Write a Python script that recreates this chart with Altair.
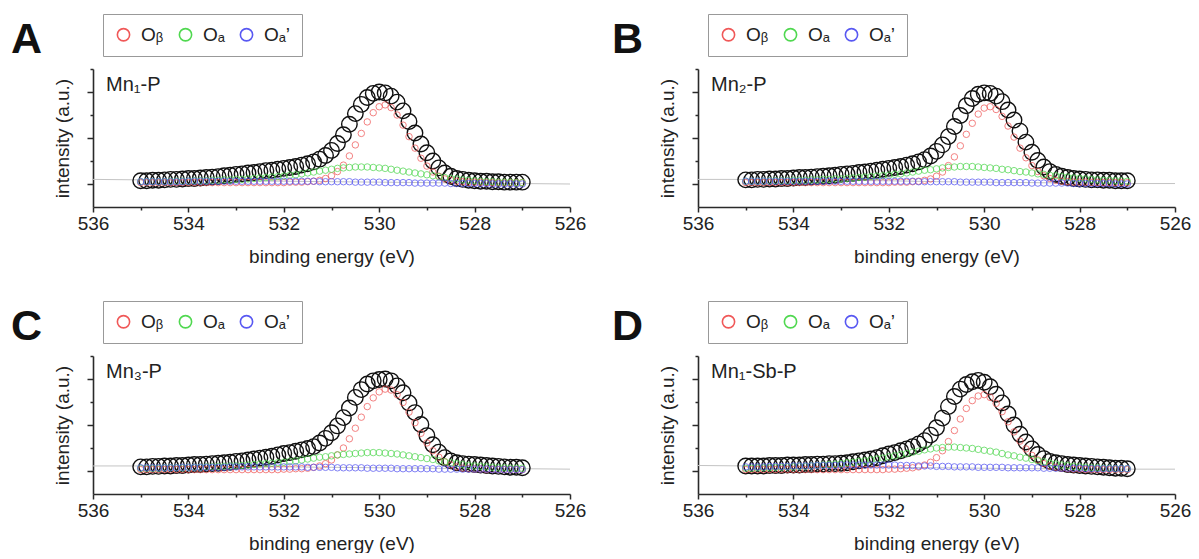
import altair as alt
import pandas as pd

FONT = "Liberation Sans"

# binding-energy grid of the measured points (eV)
energy = [535.0, 534.875, 534.75, 534.625, 534.5, 534.375, 534.25, 534.125,
          534.0, 533.875, 533.75, 533.625, 533.5, 533.375, 533.25, 533.125,
          533.0, 532.875, 532.75, 532.625, 532.5, 532.375, 532.25, 532.125,
          532.0, 531.875, 531.75, 531.625, 531.5, 531.375, 531.25, 531.125,
          531.0, 530.875, 530.75, 530.625, 530.5, 530.375, 530.25, 530.125,
          530.0, 529.875, 529.75, 529.625, 529.5, 529.375, 529.25, 529.125,
          529.0, 528.875, 528.75, 528.625, 528.5, 528.375, 528.25, 528.125,
          528.0, 527.875, 527.75, 527.625, 527.5, 527.375, 527.25, 527.125,
          527.0]
bg_energy = [536, 535, 534, 533, 532, 531, 530, 529, 528, 527, 526]

component_names = ["O\u1d66", "O\u2090", "O\u2090\u2019"]
component_colors = ["#f05858", "#50d850", "#5858f2"]

# ---------------- A : Mn1-P ----------------
black_A = [0.07, 0.07, 0.08, 0.08, 0.09, 0.10, 0.10, 0.11,
           0.12, 0.12, 0.13, 0.14, 0.15, 0.16, 0.18, 0.19,
           0.21, 0.22, 0.24, 0.25, 0.27, 0.29, 0.30, 0.32,
           0.34, 0.36, 0.38, 0.41, 0.44, 0.48, 0.54, 0.62,
           0.73, 0.88, 1.07, 1.30, 1.53, 1.73, 1.88, 1.97,
           2.00, 1.98, 1.91, 1.78, 1.59, 1.36, 1.11, 0.87,
           0.68, 0.50, 0.35, 0.24, 0.17, 0.12, 0.10, 0.08,
           0.07, 0.06, 0.06, 0.05, 0.05, 0.04, 0.04, 0.04,
           0.04]
red_A = [0.03, 0.03, 0.03, 0.03, 0.03, 0.03, 0.03, 0.03,
         0.03, 0.03, 0.03, 0.03, 0.03, 0.03, 0.03, 0.03,
         0.03, 0.03, 0.03, 0.03, 0.03, 0.03, 0.03, 0.03,
         0.03, 0.04, 0.04, 0.04, 0.05, 0.06, 0.08, 0.12,
         0.18, 0.27, 0.41, 0.61, 0.85, 1.10, 1.35, 1.55,
         1.68, 1.72, 1.66, 1.50, 1.28, 1.03, 0.78, 0.56,
         0.39, 0.26, 0.17, 0.11, 0.08, 0.06, 0.05, 0.04,
         0.04, 0.04, 0.03, 0.03, 0.03, 0.03, 0.03, 0.03,
         0.03]
green_A = [0.05, 0.05, 0.05, 0.05, 0.05, 0.06, 0.06, 0.06,
           0.06, 0.07, 0.07, 0.07, 0.08, 0.08, 0.09, 0.09,
           0.10, 0.10, 0.11, 0.12, 0.13, 0.14, 0.15, 0.16,
           0.17, 0.19, 0.20, 0.22, 0.24, 0.26, 0.28, 0.30,
           0.32, 0.34, 0.35, 0.36, 0.37, 0.37, 0.37, 0.36,
           0.35, 0.34, 0.32, 0.30, 0.28, 0.26, 0.24, 0.22,
           0.20, 0.18, 0.16, 0.14, 0.12, 0.11, 0.09, 0.08,
           0.07, 0.06, 0.05, 0.05, 0.04, 0.04, 0.04, 0.03,
           0.03]
blue_A = [0.05, 0.05, 0.05, 0.05, 0.05, 0.05, 0.05, 0.05,
          0.06, 0.06, 0.06, 0.06, 0.06, 0.06, 0.06, 0.06,
          0.06, 0.06, 0.06, 0.06, 0.06, 0.06, 0.06, 0.06,
          0.06, 0.06, 0.06, 0.06, 0.06, 0.06, 0.05, 0.05,
          0.05, 0.05, 0.05, 0.05, 0.04, 0.04, 0.04, 0.04,
          0.04, 0.03, 0.03, 0.03, 0.03, 0.03, 0.02, 0.02,
          0.02, 0.02, 0.02, 0.02, 0.01, 0.01, 0.01, 0.01,
          0.01, 0.01, 0.01, 0.00, 0.00, 0.00, 0.00, 0.00,
          0.00]
bg_A = [0.10, 0.09, 0.08, 0.07, 0.06, 0.05, 0.04, 0.03, 0.02, 0.01, 0.00]

# ---------------- B : Mn2-P ----------------
black_B = [0.09, 0.09, 0.10, 0.10, 0.11, 0.11, 0.12, 0.12,
           0.13, 0.14, 0.14, 0.15, 0.16, 0.17, 0.18, 0.19,
           0.21, 0.22, 0.23, 0.25, 0.26, 0.28, 0.30, 0.32,
           0.34, 0.36, 0.38, 0.41, 0.44, 0.48, 0.53, 0.61,
           0.71, 0.85, 1.03, 1.25, 1.49, 1.70, 1.86, 1.95,
           1.98, 1.97, 1.91, 1.79, 1.61, 1.39, 1.15, 0.91,
           0.69, 0.51, 0.37, 0.27, 0.21, 0.17, 0.14, 0.12,
           0.11, 0.10, 0.09, 0.09, 0.08, 0.08, 0.07, 0.07,
           0.07]
red_B = [0.03, 0.03, 0.03, 0.03, 0.03, 0.03, 0.03, 0.03,
         0.03, 0.03, 0.03, 0.03, 0.03, 0.03, 0.03, 0.03,
         0.03, 0.03, 0.03, 0.03, 0.03, 0.03, 0.03, 0.03,
         0.03, 0.04, 0.04, 0.04, 0.05, 0.06, 0.08, 0.11,
         0.17, 0.26, 0.40, 0.59, 0.83, 1.08, 1.32, 1.52,
         1.65, 1.68, 1.62, 1.47, 1.26, 1.02, 0.78, 0.57,
         0.40, 0.27, 0.18, 0.12, 0.08, 0.06, 0.05, 0.04,
         0.04, 0.04, 0.03, 0.03, 0.03, 0.03, 0.03, 0.03,
         0.03]
green_B = [0.06, 0.06, 0.06, 0.06, 0.07, 0.07, 0.07, 0.07,
           0.08, 0.08, 0.08, 0.09, 0.09, 0.10, 0.10, 0.11,
           0.11, 0.12, 0.13, 0.14, 0.15, 0.16, 0.17, 0.18,
           0.19, 0.21, 0.22, 0.24, 0.26, 0.28, 0.30, 0.31,
           0.33, 0.35, 0.36, 0.37, 0.38, 0.38, 0.38, 0.37,
           0.36, 0.35, 0.34, 0.32, 0.31, 0.29, 0.27, 0.26,
           0.24, 0.22, 0.21, 0.19, 0.18, 0.16, 0.15, 0.13,
           0.12, 0.11, 0.10, 0.09, 0.08, 0.08, 0.07, 0.07,
           0.06]
blue_B = [0.06, 0.06, 0.06, 0.06, 0.06, 0.06, 0.06, 0.06,
          0.06, 0.06, 0.06, 0.06, 0.06, 0.06, 0.06, 0.06,
          0.06, 0.06, 0.06, 0.06, 0.06, 0.06, 0.06, 0.06,
          0.06, 0.06, 0.06, 0.06, 0.06, 0.05, 0.05, 0.05,
          0.05, 0.05, 0.05, 0.05, 0.04, 0.04, 0.04, 0.04,
          0.04, 0.04, 0.03, 0.03, 0.03, 0.03, 0.03, 0.03,
          0.02, 0.02, 0.02, 0.02, 0.02, 0.02, 0.02, 0.01,
          0.01, 0.01, 0.01, 0.01, 0.01, 0.01, 0.00, 0.00,
          0.00]
bg_B = [0.10, 0.10, 0.09, 0.08, 0.07, 0.05, 0.04, 0.03, 0.02, 0.01, 0.01]

# ---------------- C : Mn3-P ----------------
black_C = [0.09, 0.09, 0.10, 0.10, 0.11, 0.11, 0.12, 0.12,
           0.13, 0.14, 0.14, 0.15, 0.16, 0.17, 0.18, 0.19,
           0.21, 0.22, 0.24, 0.26, 0.28, 0.30, 0.32, 0.35,
           0.38, 0.40, 0.43, 0.46, 0.49, 0.53, 0.61, 0.71,
           0.83, 0.98, 1.16, 1.37, 1.60, 1.77, 1.89, 1.96,
           1.99, 2.00, 1.96, 1.85, 1.70, 1.48, 1.27, 1.01,
           0.77, 0.57, 0.41, 0.29, 0.22, 0.18, 0.16, 0.15,
           0.14, 0.13, 0.12, 0.11, 0.10, 0.09, 0.08, 0.08,
           0.07]
red_C = [0.03, 0.03, 0.03, 0.03, 0.03, 0.03, 0.03, 0.03,
         0.03, 0.03, 0.03, 0.03, 0.03, 0.03, 0.03, 0.03,
         0.03, 0.03, 0.03, 0.03, 0.03, 0.03, 0.03, 0.03,
         0.04, 0.04, 0.05, 0.05, 0.06, 0.08, 0.11, 0.16,
         0.24, 0.35, 0.50, 0.70, 0.93, 1.17, 1.40, 1.59,
         1.72, 1.78, 1.76, 1.66, 1.49, 1.28, 1.05, 0.82,
         0.61, 0.44, 0.30, 0.20, 0.13, 0.09, 0.06, 0.05,
         0.04, 0.04, 0.03, 0.03, 0.03, 0.03, 0.03, 0.03,
         0.03]
green_C = [0.06, 0.06, 0.06, 0.06, 0.07, 0.07, 0.07, 0.07,
           0.08, 0.08, 0.08, 0.09, 0.09, 0.10, 0.10, 0.11,
           0.11, 0.12, 0.13, 0.14, 0.15, 0.16, 0.17, 0.18,
           0.19, 0.21, 0.22, 0.24, 0.26, 0.28, 0.30, 0.31,
           0.33, 0.35, 0.36, 0.37, 0.38, 0.39, 0.40, 0.40,
           0.40, 0.39, 0.38, 0.37, 0.35, 0.33, 0.31, 0.29,
           0.27, 0.25, 0.22, 0.20, 0.18, 0.16, 0.14, 0.12,
           0.11, 0.10, 0.09, 0.08, 0.07, 0.07, 0.06, 0.06,
           0.06]
blue_C = [0.07, 0.07, 0.07, 0.07, 0.07, 0.07, 0.07, 0.08,
          0.08, 0.08, 0.08, 0.08, 0.08, 0.08, 0.08, 0.09,
          0.09, 0.09, 0.09, 0.09, 0.09, 0.09, 0.09, 0.09,
          0.09, 0.09, 0.09, 0.09, 0.08, 0.08, 0.08, 0.08,
          0.08, 0.07, 0.07, 0.07, 0.07, 0.07, 0.06, 0.06,
          0.06, 0.06, 0.06, 0.05, 0.05, 0.05, 0.05, 0.05,
          0.05, 0.05, 0.04, 0.04, 0.04, 0.04, 0.04, 0.04,
          0.04, 0.04, 0.04, 0.03, 0.03, 0.03, 0.03, 0.03,
          0.03]
bg_C = [0.11, 0.11, 0.10, 0.10, 0.09, 0.08, 0.07, 0.06, 0.05, 0.05, 0.04]

# ---------------- D : Mn1-Sb-P ----------------
black_D = [0.11, 0.11, 0.11, 0.11, 0.12, 0.12, 0.12, 0.13,
           0.13, 0.13, 0.14, 0.14, 0.15, 0.15, 0.16, 0.16,
           0.17, 0.18, 0.20, 0.22, 0.24, 0.26, 0.29, 0.33,
           0.37, 0.40, 0.44, 0.48, 0.53, 0.59, 0.66, 0.78,
           0.94, 1.15, 1.40, 1.62, 1.78, 1.88, 1.94, 1.97,
           1.93, 1.83, 1.67, 1.48, 1.24, 1.00, 0.80, 0.63,
           0.48, 0.36, 0.27, 0.21, 0.18, 0.16, 0.14, 0.13,
           0.12, 0.11, 0.10, 0.09, 0.08, 0.07, 0.06, 0.06,
           0.05]
red_D = [0.03, 0.03, 0.03, 0.03, 0.03, 0.03, 0.03, 0.03,
         0.03, 0.03, 0.03, 0.03, 0.03, 0.03, 0.03, 0.03,
         0.03, 0.03, 0.03, 0.03, 0.03, 0.03, 0.03, 0.03,
         0.04, 0.04, 0.05, 0.06, 0.07, 0.09, 0.13, 0.19,
         0.29, 0.44, 0.64, 0.88, 1.13, 1.36, 1.53, 1.63,
         1.66, 1.60, 1.47, 1.29, 1.07, 0.85, 0.65, 0.48,
         0.34, 0.24, 0.16, 0.11, 0.08, 0.06, 0.05, 0.04,
         0.04, 0.03, 0.03, 0.03, 0.03, 0.03, 0.03, 0.03,
         0.03]
green_D = [0.06, 0.06, 0.07, 0.07, 0.07, 0.08, 0.08, 0.09,
           0.09, 0.10, 0.10, 0.11, 0.12, 0.13, 0.14, 0.15,
           0.16, 0.18, 0.19, 0.21, 0.22, 0.24, 0.26, 0.28,
           0.31, 0.33, 0.36, 0.38, 0.41, 0.43, 0.46, 0.48,
           0.50, 0.51, 0.52, 0.52, 0.51, 0.50, 0.49, 0.47,
           0.45, 0.43, 0.41, 0.38, 0.35, 0.33, 0.30, 0.28,
           0.25, 0.22, 0.20, 0.17, 0.15, 0.13, 0.12, 0.10,
           0.09, 0.08, 0.07, 0.07, 0.06, 0.06, 0.05, 0.05,
           0.05]
blue_D = [0.09, 0.09, 0.09, 0.09, 0.10, 0.10, 0.10, 0.10,
          0.11, 0.11, 0.11, 0.11, 0.12, 0.12, 0.12, 0.12,
          0.13, 0.13, 0.13, 0.13, 0.13, 0.13, 0.13, 0.13,
          0.13, 0.13, 0.12, 0.12, 0.12, 0.11, 0.11, 0.11,
          0.10, 0.10, 0.10, 0.09, 0.09, 0.09, 0.09, 0.08,
          0.08, 0.08, 0.08, 0.08, 0.07, 0.07, 0.07, 0.07,
          0.07, 0.07, 0.06, 0.06, 0.06, 0.06, 0.06, 0.06,
          0.06, 0.05, 0.05, 0.05, 0.05, 0.05, 0.05, 0.05,
          0.05]
bg_D = [0.12, 0.11, 0.10, 0.09, 0.08, 0.07, 0.06, 0.05, 0.05, 0.04, 0.04]

PLOT_W = 477
PLOT_H = 138
AXIS_COLOR = "#2a2a2a"

x_enc_axis = alt.Axis(
    values=[526, 527, 528, 529, 530, 531, 532, 533, 534, 535, 536],
    labelExpr="datum.value % 2 === 0 ? datum.label : ''",
    tickSize={"condition": {"test": "datum.value % 2 === 0", "value": 5}, "value": 3},
    domain=True, domainColor=AXIS_COLOR, domainWidth=1.6, ticks=True,
    tickColor=AXIS_COLOR, tickWidth=1.5, labelFlush=False, labelOverlap=False,
    title="binding energy (eV)", grid=False, labelFontSize=19, titleFontSize=19,
    labelPadding=2, titlePadding=14, titleFontWeight="normal",
)
y_enc_axis = alt.Axis(
    values=[0, 0.5, 1, 1.5, 2, 2.5], labels=False,
    tickSize={"condition": {"test": "datum.value % 1 === 0", "value": 6}, "value": 3},
    domain=True, domainColor=AXIS_COLOR, domainWidth=1.6, ticks=True,
    tickColor=AXIS_COLOR, tickWidth=1.5,
    title="intensity (a.u.)", grid=False, titleFontSize=19, titlePadding=14,
    titleFontWeight="normal",
)
x_scale = alt.Scale(domain=[526, 536], reverse=True, nice=False, zero=False)
y_scale = alt.Scale(domain=[-0.5, 2.5], nice=False, zero=False)


def make_panel(letter, letter_dx, name, black, red, green, blue, bg):
    n = len(energy)
    assert all(len(s) == n for s in (black, red, green, blue)), letter
    df_pts = pd.DataFrame({
        "energy": energy * 3,
        "value": red + green + blue,
        "component": [component_names[0]] * n + [component_names[1]] * n + [component_names[2]] * n,
    })
    df_black = pd.DataFrame({"energy": energy, "value": black})
    df_bg = pd.DataFrame({"energy": bg_energy, "value": bg})

    x = alt.X("energy:Q", scale=x_scale, axis=x_enc_axis)
    y = alt.Y("value:Q", scale=y_scale, axis=y_enc_axis)

    bg_line = alt.Chart(df_bg).mark_line(color="#c4c4c4", strokeWidth=1).encode(x=x, y=y)
    black_pts = alt.Chart(df_black).mark_point(
        shape="circle", filled=False, size=240, strokeWidth=1.4, color="#111111", opacity=1
    ).encode(x=x, y=y)
    comp_pts = alt.Chart(df_pts).mark_point(
        shape="circle", filled=False, size=42, strokeWidth=1, opacity=0.75
    ).encode(
        x=x, y=y,
        color=alt.Color(
            "component:N",
            scale=alt.Scale(domain=component_names, range=component_colors),
            sort=component_names,
            legend=alt.Legend(
                orient="none", legendX=10, legendY=-55, direction="horizontal",
                title=None, strokeColor="#999999", padding=11,
                symbolType="circle", symbolSize=150, symbolStrokeWidth=1.6,
                symbolOpacity=1, labelFontSize=19, labelFont=FONT,
                labelColor="#222222", labelOffset=8, columnPadding=12,
            ),
        ),
    )
    letter_txt = alt.Chart(pd.DataFrame({"t": [letter]})).mark_text(
        font=FONT, fontSize=43, fontWeight="bold", align="left", baseline="alphabetic",
        color="#111111",
    ).encode(x=alt.value(letter_dx), y=alt.value(-16), text="t:N")
    name_txt = alt.Chart(pd.DataFrame({"t": [name]})).mark_text(
        font=FONT, fontSize=20, align="left", baseline="alphabetic", color="#222222",
    ).encode(x=alt.value(13), y=alt.value(22), text="t:N")

    return alt.layer(bg_line, black_pts, comp_pts, letter_txt, name_txt).properties(
        width=PLOT_W, height=PLOT_H
    )


pA = make_panel("A", -82, "Mn\u2081-P", black_A, red_A, green_A, blue_A, bg_A)
pB = make_panel("B", -86, "Mn\u2082-P", black_B, red_B, green_B, blue_B, bg_B)
pC = make_panel("C", -82, "Mn\u2083-P", black_C, red_C, green_C, blue_C, bg_C)
pD = make_panel("D", -86, "Mn\u2081-Sb-P", black_D, red_D, green_D, blue_D, bg_D)

row1 = alt.hconcat(pA, pB, spacing=26).resolve_scale(color="independent").resolve_legend(color="independent")
row2 = alt.hconcat(pC, pD, spacing=26).resolve_scale(color="independent").resolve_legend(color="independent")

chart = alt.vconcat(row1, row2, spacing=34).resolve_scale(
    color="independent"
).resolve_legend(color="independent").configure_view(stroke=None).configure_axis(
    labelFont=FONT, titleFont=FONT, labelColor="#222222", titleColor="#222222",
).properties(padding={"left": 3, "top": 5, "right": 0, "bottom": 0})

chart.save("out.html", embed_options={"renderer": "svg", "actions": False})
